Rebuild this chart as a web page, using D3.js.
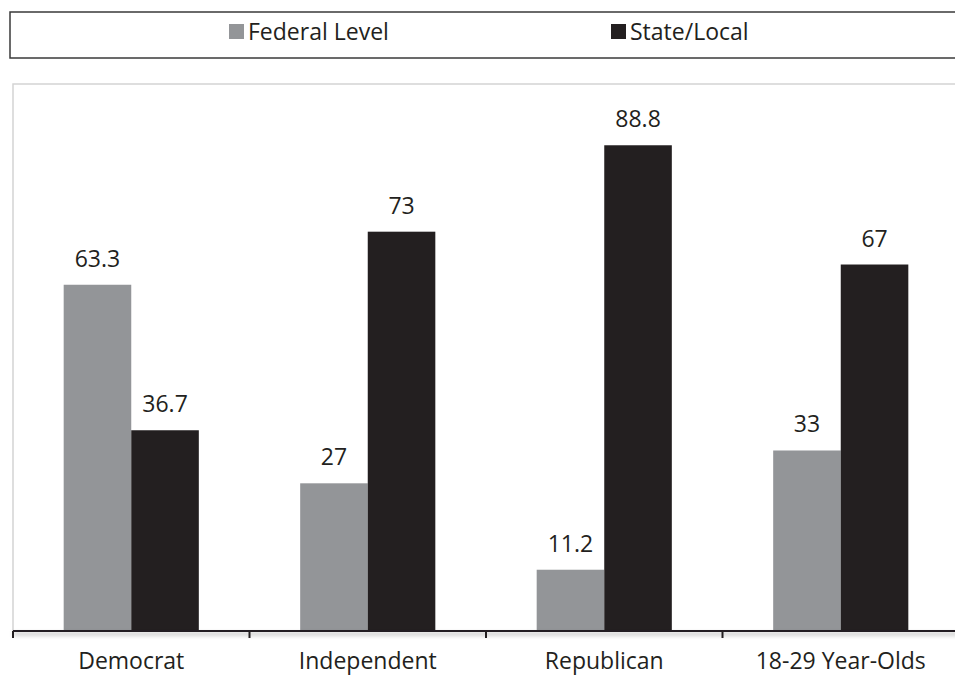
<!DOCTYPE html>
<html>
<head>
<meta charset="utf-8">
<script src="https://cdn.jsdelivr.net/npm/d3@7"></script>
<style>
  html, body { margin: 0; padding: 0; background: #fff; overflow: hidden; }
  svg { display: block; font-family: "Open Sans", sans-serif; }
</style>
</head>
<body>
<svg id="chart" width="955" height="676"></svg>
<script>
// data
const categories = ["Democrat", "Independent", "Republican", "18-29 Year-Olds"];
const seriesNames = ["Federal Level", "State/Local"];
const federalValues = [63.3, 27, 11.2, 33];
const stateLocalValues = [36.7, 73, 88.8, 67];
const seriesColors = ["#939598", "#231f20"];

const width = 955;
const height = 676;
const plot = { left: 13, top: 84, right: 959, bottom: 631 };
const textColor = "#231f20";
const fontSize = 23;

const svg = d3.select("#chart");

// rows for each category
const rows = categories.map((c, i) => ({
  category: c,
  values: [federalValues[i], stateLocalValues[i]]
}));

// scales
const x0 = d3.scaleBand()
  .domain(categories)
  .range([plot.left, plot.right])
  .padding(0);

const x1 = d3.scaleBand()
  .domain(seriesNames)
  .range([0, x0.bandwidth()])
  .paddingInner(0)
  .paddingOuter(0.75);

const y = d3.scaleLinear()
  .domain([0, 100])
  .range([plot.bottom, plot.top]);

const color = d3.scaleOrdinal().domain(seriesNames).range(seriesColors);

// soft shadow under the axis line
const defs = svg.append("defs");
const shadow = defs.append("filter").attr("id", "axisShadow")
  .attr("filterUnits", "userSpaceOnUse")
  .attr("x", -20).attr("y", -10).attr("width", width + 40).attr("height", 30);
shadow.append("feDropShadow")
  .attr("dx", 0).attr("dy", 3).attr("stdDeviation", 2)
  .attr("flood-color", "#000").attr("flood-opacity", 0.35);

// plot area border (light gray, open on the right)
svg.append("path")
  .attr("d", `M${plot.left},${plot.bottom} V${plot.top} H${width + 5}`)
  .attr("fill", "none")
  .attr("stroke", "#d4d4d4")
  .attr("stroke-width", 1.5);

// bars
const groups = svg.append("g").selectAll("g")
  .data(rows)
  .join("g")
  .attr("transform", d => `translate(${x0(d.category)},0)`);

groups.selectAll("rect")
  .data(d => d.values.map((v, i) => ({ key: seriesNames[i], value: v })))
  .join("rect")
  .attr("x", d => x1(d.key))
  .attr("y", d => y(d.value))
  .attr("width", x1.bandwidth())
  .attr("height", d => y(0) - y(d.value))
  .attr("fill", d => color(d.key));

// value labels
groups.selectAll("text")
  .data(d => d.values.map((v, i) => ({ key: seriesNames[i], value: v })))
  .join("text")
  .attr("x", d => x1(d.key) + x1.bandwidth() / 2)
  .attr("y", d => y(d.value) - 18)
  .attr("text-anchor", "middle")
  .attr("font-size", fontSize)
  .attr("fill", textColor)
  .text(d => d.value);

// x axis
const xAxis = svg.append("g")
  .attr("transform", `translate(0,${plot.bottom})`)
  .call(d3.axisBottom(x0).tickSize(0).tickPadding(22));

xAxis.select(".domain").remove();

xAxis.insert("line", ":first-child")
  .attr("x1", plot.left)
  .attr("x2", width + 5)
  .attr("y1", 0)
  .attr("y2", 0)
  .attr("stroke", "#231f20")
  .attr("stroke-width", 2)
  .attr("filter", "url(#axisShadow)");

xAxis.selectAll(".tick text")
  .attr("font-family", "Open Sans, sans-serif")
  .attr("font-size", fontSize)
  .attr("fill", textColor);

// category boundary ticks
xAxis.append("g")
  .selectAll("line")
  .data(categories)
  .join("line")
  .attr("x1", d => x0(d))
  .attr("x2", d => x0(d))
  .attr("y1", 0)
  .attr("y2", 7)
  .attr("stroke", "#231f20")
  .attr("stroke-width", 2);

// legend
const legend = svg.append("g");
legend.append("rect")
  .attr("x", 10)
  .attr("y", 12)
  .attr("width", width)
  .attr("height", 46)
  .attr("fill", "#fff")
  .attr("stroke", "#3a3a3a")
  .attr("stroke-width", 1.5);

const legendX = [229, 611];
const items = legend.selectAll("g.item")
  .data(seriesNames)
  .join("g")
  .attr("class", "item")
  .attr("transform", (d, i) => `translate(${legendX[i]},0)`);

items.append("rect")
  .attr("x", 0)
  .attr("y", 24)
  .attr("width", 15)
  .attr("height", 15)
  .attr("fill", d => color(d));

items.append("text")
  .attr("x", 19)
  .attr("y", 40)
  .attr("font-size", fontSize)
  .attr("fill", textColor)
  .text(d => d);
</script>
</body>
</html>
